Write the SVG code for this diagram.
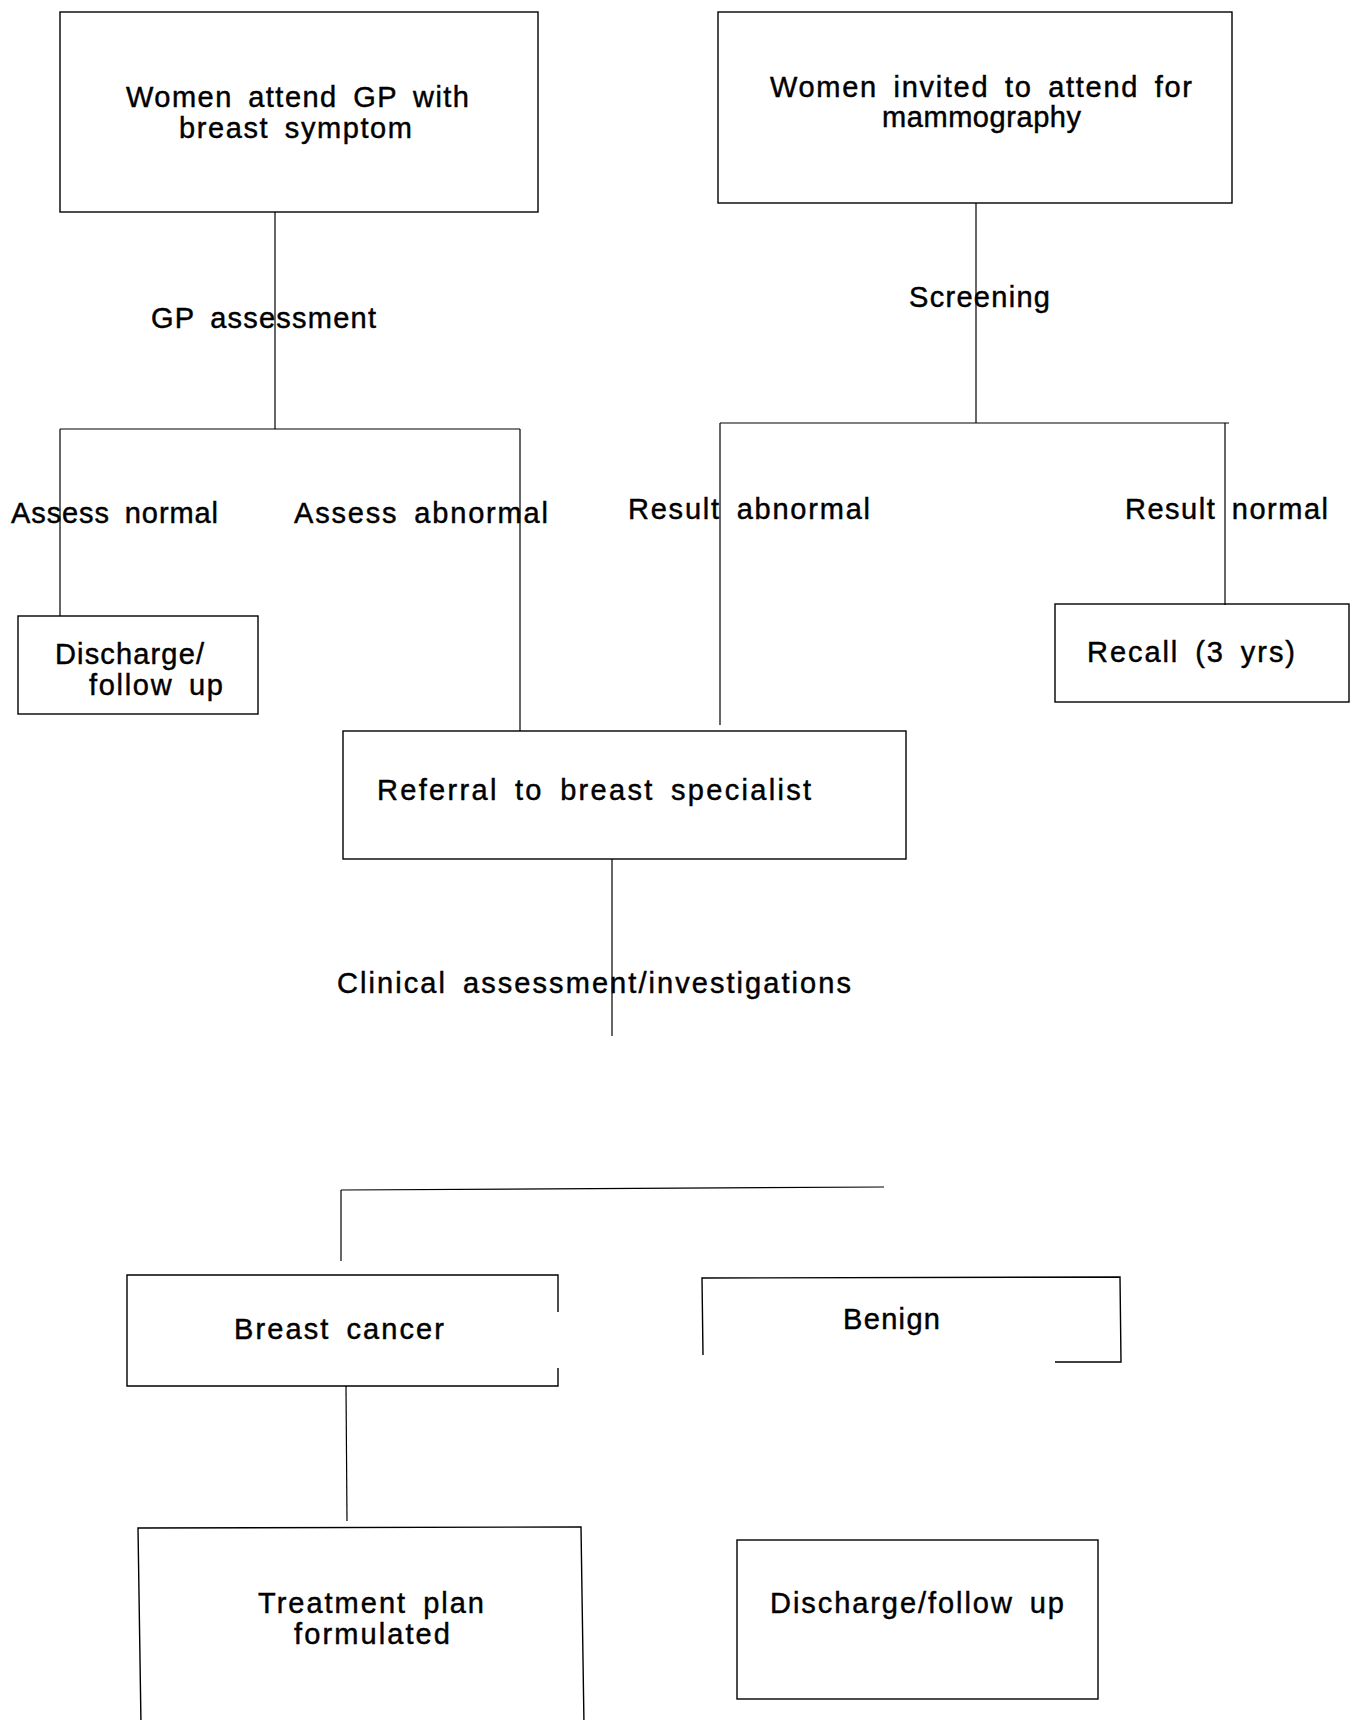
<svg xmlns="http://www.w3.org/2000/svg" width="1352" height="1720" viewBox="0 0 1352 1720">
<style>
  .box { fill: none; stroke: #000; stroke-width: 1.4; }
  .ln { fill: none; stroke: #000; stroke-width: 1.2; }
  text { font-family: "Liberation Sans", Arial, sans-serif; font-size: 29px; word-spacing: 6px; fill: #000; stroke: #000; stroke-width: 0.45; }
</style>
<rect width="1352" height="1720" fill="#fff"/>
<g id="connectors">
  <line class="ln" x1="275" y1="212" x2="275" y2="429"/>
  <line class="ln" x1="60" y1="429" x2="520" y2="429"/>
  <line class="ln" x1="60" y1="429" x2="60" y2="616"/>
  <line class="ln" x1="520" y1="429" x2="520" y2="731"/>
  <line class="ln" x1="976" y1="203" x2="976" y2="423"/>
  <line class="ln" x1="720" y1="423" x2="1229" y2="423"/>
  <line class="ln" x1="720" y1="423" x2="720" y2="725"/>
  <line class="ln" x1="1225" y1="423" x2="1225" y2="605"/>
  <line class="ln" x1="612" y1="859" x2="612" y2="1036"/>
  <line class="ln" x1="341" y1="1190" x2="884" y2="1187"/>
  <line class="ln" x1="341" y1="1190" x2="341" y2="1261"/>
  <line class="ln" x1="346" y1="1386" x2="347" y2="1521"/>
  <text x="151" y="328" textLength="225" lengthAdjust="spacing">GP assessment</text>
  <text x="909" y="307" textLength="141" lengthAdjust="spacing">Screening</text>
  <text x="11" y="523" textLength="207" lengthAdjust="spacing">Assess normal</text>
  <text x="294" y="523" textLength="254" lengthAdjust="spacing">Assess abnormal</text>
  <text x="628" y="519" textLength="242" lengthAdjust="spacing">Result abnormal</text>
  <text x="1125" y="519" textLength="203" lengthAdjust="spacing">Result normal</text>
  <text x="337" y="993" textLength="514" lengthAdjust="spacing">Clinical assessment/investigations</text>
</g>
<g id="n-gp">
  <rect class="box" x="60" y="12" width="478" height="200"/>
  <text x="126" y="107" textLength="343" lengthAdjust="spacing">Women attend GP with</text>
  <text x="179" y="138" textLength="233" lengthAdjust="spacing">breast symptom</text>
</g>
<g id="n-invite">
  <rect class="box" x="718" y="12" width="514" height="191"/>
  <text x="770" y="97" textLength="422" lengthAdjust="spacing">Women invited to attend for</text>
  <text x="882" y="127" textLength="199" lengthAdjust="spacing">mammography</text>
</g>
<g id="n-discharge1">
  <rect class="box" x="18" y="616" width="240" height="98"/>
  <text x="55" y="664" textLength="149" lengthAdjust="spacing">Discharge/</text>
  <text x="89" y="695" textLength="134" lengthAdjust="spacing">follow up</text>
</g>
<g id="n-recall">
  <rect class="box" x="1055" y="604" width="294" height="98"/>
  <text x="1087" y="662" textLength="208" lengthAdjust="spacing">Recall (3 yrs)</text>
</g>
<g id="n-referral">
  <rect class="box" x="343" y="731" width="563" height="128"/>
  <text x="377" y="800" textLength="434" lengthAdjust="spacing">Referral to breast specialist</text>
</g>
<g id="n-cancer">
  <path class="box" d="M558 1312 L558 1275 L127 1275 L127 1386 L558 1386 L558 1368"/>
  <text x="234" y="1339" textLength="210" lengthAdjust="spacing">Breast cancer</text>
</g>
<g id="n-benign">
  <path class="box" d="M703 1355 L702 1278 L1120 1277 L1121 1362 L1055 1362"/>
  <text x="843" y="1329" textLength="97" lengthAdjust="spacing">Benign</text>
</g>
<g id="n-treatment">
  <path class="box" d="M141 1725 L138 1528 L581 1527 L584 1725"/>
  <text x="258" y="1613" textLength="226" lengthAdjust="spacing">Treatment plan</text>
  <text x="294" y="1644" textLength="156" lengthAdjust="spacing">formulated</text>
</g>
<g id="n-discharge2">
  <rect class="box" x="737" y="1540" width="361" height="159"/>
  <text x="770" y="1613" textLength="294" lengthAdjust="spacing">Discharge/follow up</text>
</g>
</svg>
